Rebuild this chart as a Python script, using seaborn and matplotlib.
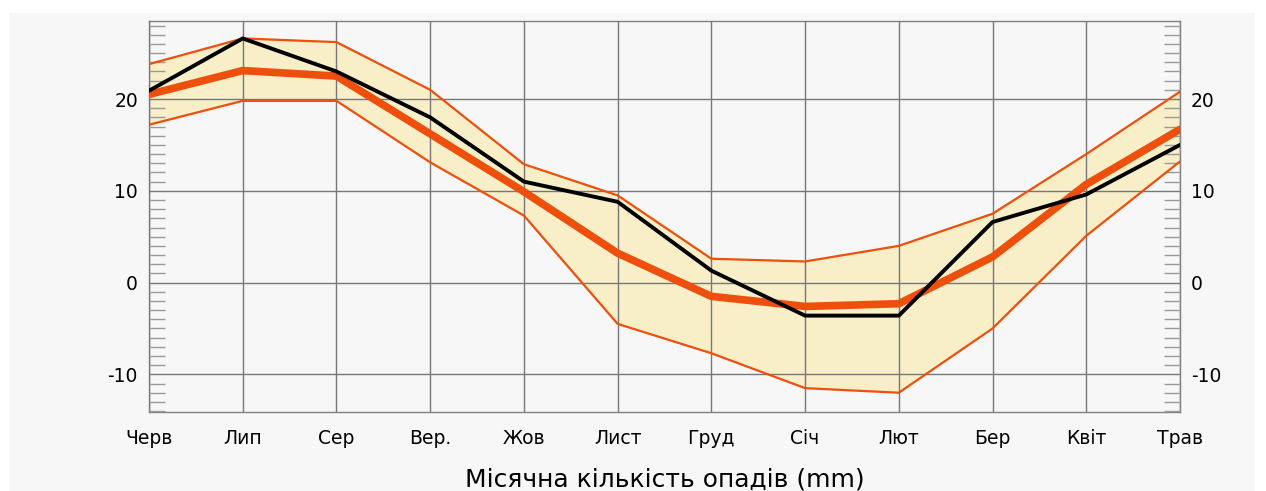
import numpy as np
import pandas as pd
import matplotlib
matplotlib.use('Agg')
import matplotlib.pyplot as plt
import seaborn as sns
from matplotlib.patches import Rectangle
from matplotlib.ticker import MultipleLocator

# monthly values
months = ['Черв', 'Лип', 'Сер', 'Вер.', 'Жов', 'Лист', 'Груд', 'Січ', 'Лют', 'Бер', 'Квіт', 'Трав']
upper = [23.8, 26.6, 26.2, 21.0, 12.9, 9.5, 2.6, 2.3, 4.0, 7.5, 14.0, 20.8]
lower = [17.2, 19.8, 19.8, 13.1, 7.3, -4.5, -7.7, -11.5, -12.0, -5.0, 5.1, 13.2]
mean = [20.5, 23.1, 22.5, 16.2, 9.9, 3.2, -1.5, -2.6, -2.3, 2.8, 10.7, 16.7]
year = [20.9, 26.6, 23.0, 18.0, 11.0, 8.8, 1.3, -3.6, -3.6, 6.6, 9.6, 15.0]

df = pd.DataFrame({'x': range(len(months)), 'upper': upper, 'lower': lower,
                   'mean': mean, 'year': year})

sns.set_theme(style='white')
plt.rcParams['font.family'] = ['DejaVu Sans']
plt.rcParams['axes.unicode_minus'] = False
plt.rcParams['text.color'] = 'black'
plt.rcParams['xtick.color'] = 'black'
plt.rcParams['ytick.color'] = 'black'
plt.rcParams['axes.labelcolor'] = 'black'

orange = '#ee4f0c'
fig = plt.figure(figsize=(12.66, 4.91), dpi=100, facecolor='white')
# grey panel behind the chart
fig.add_artist(Rectangle((9 / 1266, 0), 1246 / 1266, 478 / 491, transform=fig.transFigure,
                         facecolor='#f7f7f7', edgecolor='none', zorder=-5))
ax = fig.add_axes([149 / 1266, 1 - 412 / 491, 1031 / 1266, 391 / 491])
ax.set_zorder(1)
ax.set_facecolor('#f7f7f7')

ax.fill_between(df['x'], df['lower'], df['upper'], color='#f8eec8', zorder=1, linewidth=0)
sns.lineplot(data=df, x='x', y='upper', ax=ax, color=orange, linewidth=1.6, zorder=3)
sns.lineplot(data=df, x='x', y='lower', ax=ax, color=orange, linewidth=1.6, zorder=3)
sns.lineplot(data=df, x='x', y='mean', ax=ax, color=orange, linewidth=5.5, zorder=4)
sns.lineplot(data=df, x='x', y='year', ax=ax, color='black', linewidth=2.8, zorder=5)

ax.set_xlim(0, len(months) - 1)
ax.set_ylim(-14.1, 28.5)
ax.set_xticks(df['x'])
ax.set_xticklabels(months)
ax.set_yticks([-10, 0, 10, 20])
ax.yaxis.set_minor_locator(MultipleLocator(1))
ax.grid(True, which='major', color='#777777', linewidth=1)
ax.set_axisbelow(False)
for line in ax.get_xgridlines() + ax.get_ygridlines():
    line.set_zorder(2)

ax.tick_params(axis='y', which='minor', direction='in', length=11.5, width=1, color='#999999',
               left=True, right=True)
ax.tick_params(axis='y', which='major', direction='in', length=0, labelsize=13.5,
               left=True, right=True, labelleft=True, labelright=True, pad=8)
ax.tick_params(axis='x', which='major', length=0, labelsize=13.5, pad=12)
for s in ax.spines.values():
    s.set_color('#808080')
    s.set_linewidth(1)

ax.set_xlabel('Місячна кількість опадів (mm)', fontsize=18, labelpad=14)
ax.set_ylabel('')

fig.savefig('out.png', dpi=100, facecolor='white')
